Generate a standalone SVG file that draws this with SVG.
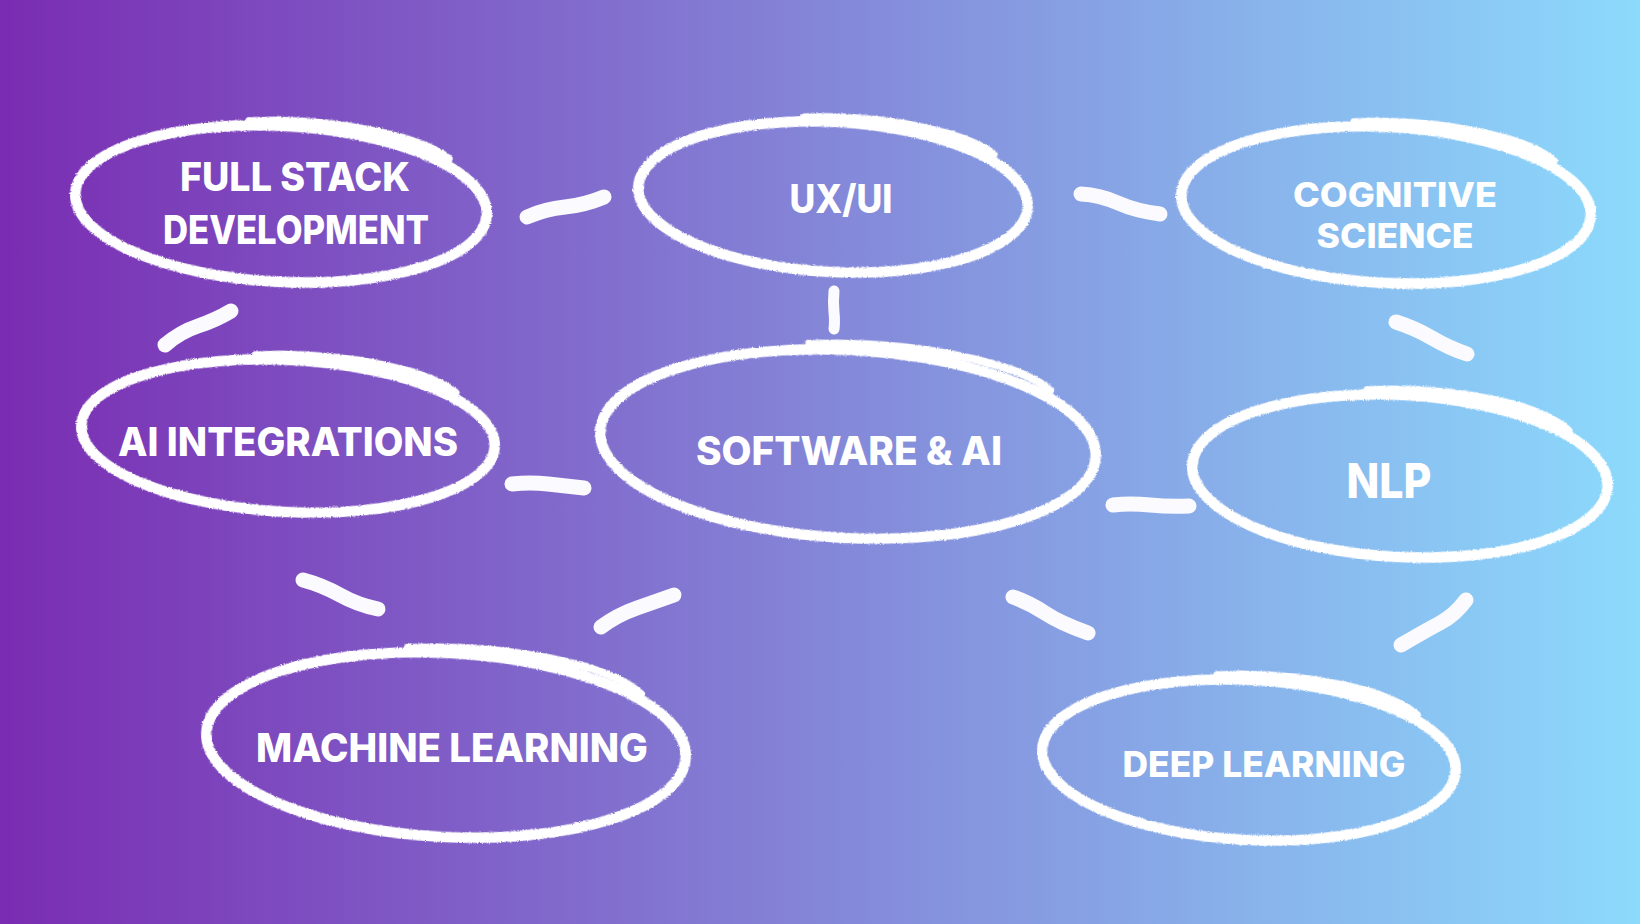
<svg xmlns="http://www.w3.org/2000/svg" width="1640" height="924" viewBox="0 0 1640 924">
  <defs>
    <linearGradient id="bg" x1="0" y1="0" x2="1" y2="0">
      <stop offset="0" stop-color="#7A2CB2"/>
      <stop offset="0.5" stop-color="#8486D8"/>
      <stop offset="1" stop-color="#8CDAFC"/>
    </linearGradient>
    <filter id="rough" x="-5%" y="-10%" width="110%" height="120%">
      <feTurbulence type="fractalNoise" baseFrequency="0.9" numOctaves="2" seed="3" result="n"/>
      <feDisplacementMap in="SourceGraphic" in2="n" scale="3" xChannelSelector="R" yChannelSelector="G"/>
    </filter>
    <style>
      .ring { fill: none; stroke: #FFFFFF; stroke-width: 10.5; }
      .tail { fill: none; stroke: #FFFFFF; stroke-width: 8; stroke-linecap: round; }
      .dash { fill: none; stroke: #FBFAFF; stroke-width: 15; stroke-linecap: round; }
      .lbl { fill: #FFFFFF; font-family: Inter, "Noto Sans", "Liberation Sans", sans-serif; font-weight: 800; font-size: 39px; text-anchor: middle; }
    </style>
  </defs>
  <rect x="0" y="0" width="1640" height="924" fill="url(#bg)"/>

  <g id="connectors">
    <path class="dash" d="M 527 217 Q 545 209 565 207 T 604 197"/>
    <path class="dash" d="M 165 345 Q 180 332 198 326 T 231 311"/>
    <path class="dash" style="stroke-width:11" d="M 834 291 Q 833 302 834 312 T 834 329"/>
    <path class="dash" d="M 1081 194 Q 1100 195 1118 203 T 1160 214"/>
    <path class="dash" d="M 1396 322 Q 1415 328 1432 338 T 1467 354"/>
    <path class="dash" d="M 512 484 Q 530 482 548 484 T 584 488"/>
    <path class="dash" d="M 1113 505 Q 1130 503 1150 505 T 1189 506"/>
    <path class="dash" d="M 303 580 Q 322 585 340 595 T 378 609"/>
    <path class="dash" d="M 601 627 Q 617 615 637 608 T 674 595"/>
    <path class="dash" d="M 1013 597 Q 1030 603 1045 613 T 1088 633"/>
    <path class="dash" d="M 1466 600 Q 1455 615 1440 623 T 1401 645"/>
  </g>

  <g id="node-fullstack">
    <g filter="url(#rough)" transform="rotate(3 281 204)">
      <ellipse class="ring" cx="281" cy="204" rx="206" ry="78"/>
      <path class="tail" d="M 245 123 A 209 81 0 0 1 400 132 Q 432 140 446 150"/>
    </g>
    <text class="lbl" x="295" y="191" textLength="230" lengthAdjust="spacingAndGlyphs">FULL STACK</text>
    <text class="lbl" x="296" y="244" textLength="266" lengthAdjust="spacingAndGlyphs">DEVELOPMENT</text>
  </g>

  <g id="node-uxui">
    <g filter="url(#rough)" transform="rotate(3 833 197)">
      <ellipse class="ring" cx="833" cy="197" rx="195" ry="75"/>
      <path class="tail" d="M 800 119 A 198 78 0 0 1 945 128 Q 977 136 991 146"/>
    </g>
    <text class="lbl" x="841" y="213" textLength="103" lengthAdjust="spacingAndGlyphs">UX/UI</text>
  </g>

  <g id="node-cognitive">
    <g filter="url(#rough)" transform="rotate(3 1386 205)">
      <ellipse class="ring" cx="1386" cy="205" rx="205" ry="78"/>
      <path class="tail" d="M 1350 124 A 208 81 0 0 1 1505 133 Q 1537 141 1551 152"/>
    </g>
    <text class="lbl" x="1395" y="207" style="font-size:34px" textLength="204" lengthAdjust="spacingAndGlyphs">COGNITIVE</text>
    <text class="lbl" x="1395" y="248" style="font-size:34px" textLength="157" lengthAdjust="spacingAndGlyphs">SCIENCE</text>
  </g>

  <g id="node-ai-integrations">
    <g filter="url(#rough)" transform="rotate(3 288 436)">
      <ellipse class="ring" cx="288" cy="436" rx="207" ry="76"/>
      <path class="tail" d="M 252 357 A 210 79 0 0 1 405 365 Q 437 373 453 384"/>
    </g>
    <text class="lbl" x="288" y="456" textLength="340" lengthAdjust="spacingAndGlyphs">AI INTEGRATIONS</text>
  </g>

  <g id="node-software-ai">
    <g filter="url(#rough)" transform="rotate(3 848 444)">
      <ellipse class="ring" cx="848" cy="444" rx="248" ry="94"/>
      <path class="tail" d="M 804 346 A 251 97 0 0 1 990 357 Q 1030 366 1047 380"/>
    </g>
    <text class="lbl" x="849" y="465" textLength="306" lengthAdjust="spacingAndGlyphs">SOFTWARE &amp; AI</text>
  </g>

  <g id="node-nlp">
    <g filter="url(#rough)" transform="rotate(3 1400 476)">
      <ellipse class="ring" cx="1400" cy="476" rx="208" ry="81"/>
      <path class="tail" d="M 1363 392 A 211 84 0 0 1 1520 401 Q 1552 410 1566 422"/>
    </g>
    <text class="lbl" x="1389" y="498" style="font-size:48px" textLength="85" lengthAdjust="spacingAndGlyphs">NLP</text>
  </g>

  <g id="node-machine-learning">
    <g filter="url(#rough)" transform="rotate(3 446 745)">
      <ellipse class="ring" cx="446" cy="745" rx="240" ry="92"/>
      <path class="tail" d="M 403 650 A 243 95 0 0 1 583 660 Q 622 670 638 684"/>
    </g>
    <text class="lbl" x="452" y="762" textLength="392" lengthAdjust="spacingAndGlyphs">MACHINE LEARNING</text>
  </g>

  <g id="node-deep-learning">
    <g filter="url(#rough)" transform="rotate(3 1249 760)">
      <ellipse class="ring" cx="1249" cy="760" rx="207" ry="80"/>
      <path class="tail" d="M 1213 677 A 210 83 0 0 1 1368 686 Q 1400 695 1414 706"/>
    </g>
    <text class="lbl" x="1264" y="777" style="font-size:35px" textLength="283" lengthAdjust="spacingAndGlyphs">DEEP LEARNING</text>
  </g>
</svg>
